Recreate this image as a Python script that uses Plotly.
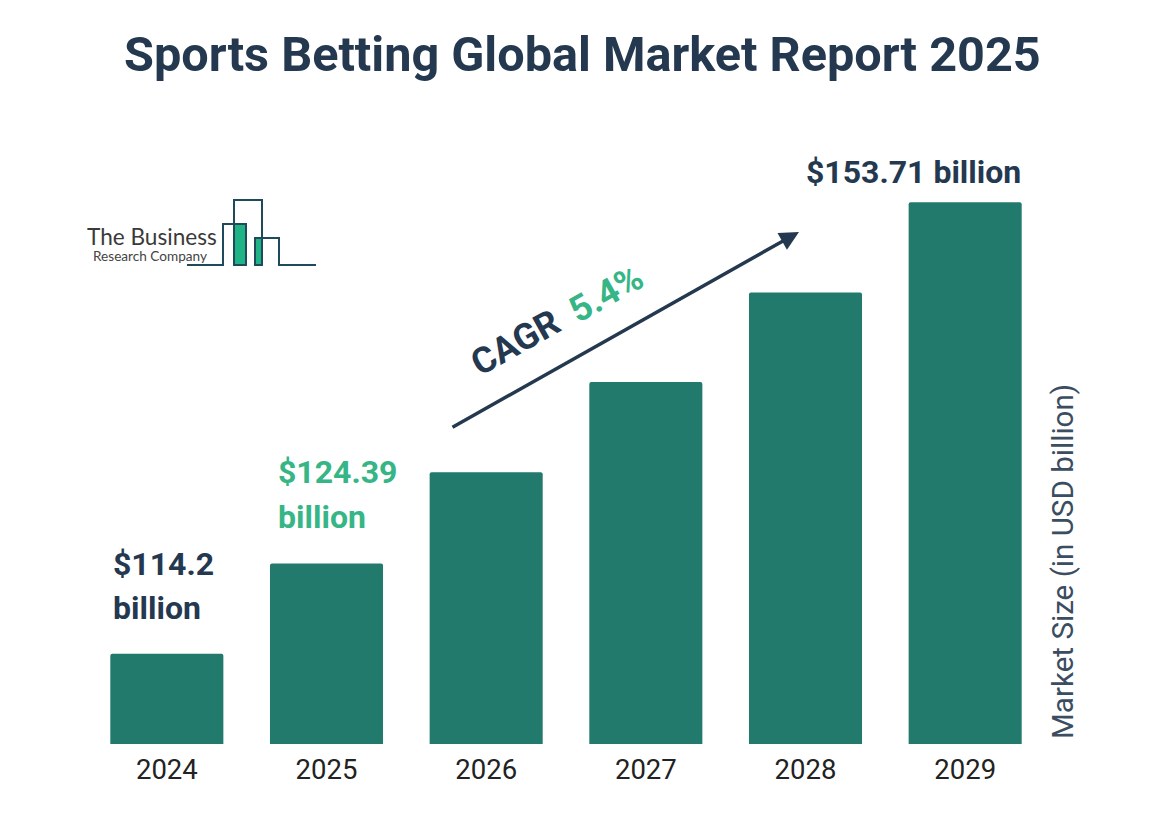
import plotly.graph_objects as go

# Data
years = ["2024", "2025", "2026", "2027", "2028", "2029"]
# Bar heights as drawn in the picture (evenly stepped, relative to the 2024 bar)
bar_levels = [1.0, 2.0, 3.01, 4.01, 5.0, 6.0]
title_text = "Sports Betting Global Market Report 2025"
axis_label = "Market Size (in USD billion)"

OFF = 8  # page body margin
W, H = 1158 - OFF, 816 - OFF
L, R, B = 87, 1045, 744
NAVY = "#24394f"
GREEN = "#36b586"
BAR = "#217a6b"


def px(x):
    return (x - L) / (R - L)


def py(y):
    return (B - y) / (B - OFF)


def text(t, x, y, size, color, anchor="left", bold=True, angle=0, family="Roboto"):
    return dict(text=t, x=px(x), y=py(y), xref="paper", yref="paper", showarrow=False,
                xanchor=anchor, yanchor="middle", textangle=angle,
                font=dict(family=family, size=size, color=color, weight=700 if bold else 400))


fig = go.Figure(go.Bar(x=years, y=bar_levels, marker=dict(color=BAR, line_width=0, cornerradius=2)))

annotations = [
    text(title_text, 582, 54, 48.6, NAVY, anchor="center"),
    text("$114.2", 111, 564, 32, NAVY),
    text("billion", 111, 608, 32, NAVY),
    text("$124.39", 276, 472, 32, GREEN),
    text("billion", 276, 517, 32, GREEN),
    text("$153.71 billion", 804, 172, 32, NAVY),
    text("CAGR", 515, 343, 36, NAVY, anchor="center", angle=-29.4),
    text("5.4%", 606, 294, 36, GREEN, anchor="center", angle=-29.4),
    text(axis_label, 1063, 562, 29.6, "#3b4d61", anchor="center", bold=False, angle=-90),
    text("The Business", 85, 236, 22.6, "#3a3a3a", bold=False, family="Lato"),
    text("Research Company", 91, 256, 13.6, "#444444", bold=False, family="Lato"),
    dict(x=px(799), y=py(232), xref="paper", yref="paper", ax=451 - 799, ay=428 - 232,
         axref="pixel", ayref="pixel", showarrow=True, text="", arrowhead=2, arrowsize=1.1,
         arrowwidth=3.5, arrowcolor=NAVY, standoff=0, startstandoff=0),
]

logo_outline = [(187, 265), (223, 265), (223, 224), (246, 224), (246, 265), (234, 265), (234, 200),
                (262, 200), (262, 265), (255, 265), (255, 238), (279, 238), (279, 265), (316, 265)]
path = "M " + " L ".join(f"{px(x)} {py(y)}" for x, y in logo_outline)
shapes = [
    dict(type="rect", xref="paper", yref="paper", x0=px(234), x1=px(246), y0=py(265), y1=py(224),
         fillcolor="#1fb385", line_width=0),
    dict(type="rect", xref="paper", yref="paper", x0=px(255), x1=px(262), y0=py(265), y1=py(238),
         fillcolor="#1fb385", line_width=0),
    dict(type="path", xref="paper", yref="paper", path=path, line=dict(color="#1f4a5c", width=2)),
]

fig.update_layout(
    width=W, height=H, autosize=False,
    margin=dict(l=L - OFF, r=1158 - R, t=0, b=816 - B),
    paper_bgcolor="white", plot_bgcolor="white",
    bargap=0.292, showlegend=False,
    annotations=annotations, shapes=shapes,
    font=dict(family="Roboto"),
)
fig.update_xaxes(type="category", showgrid=False, showline=False, ticks="", zeroline=False,
                 tickfont=dict(family="Roboto", size=27.5, color="#222222"), ticklabelstandoff=6)
fig.update_yaxes(range=[0, (B - OFF) / 90.3], visible=False)

fig.write_html("out.html")
